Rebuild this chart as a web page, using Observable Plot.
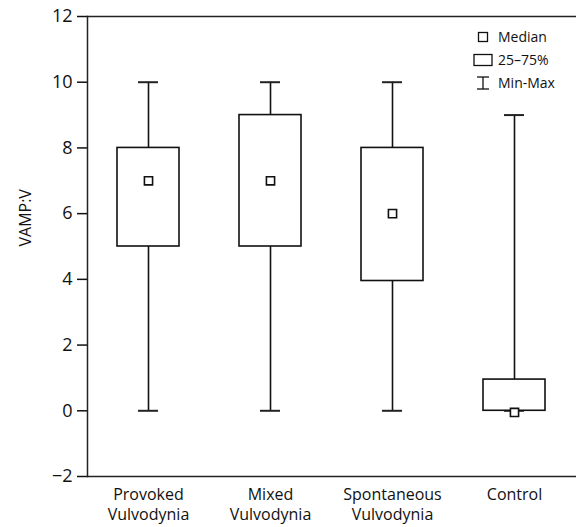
<!DOCTYPE html>
<html>
<head>
<meta charset="utf-8">
<script src="https://cdn.jsdelivr.net/npm/d3@7"></script>
<script src="https://cdn.jsdelivr.net/npm/@observablehq/plot@0.6"></script>
<style>
  html, body { margin: 0; padding: 0; background: #fff; }
  #wrap { position: relative; width: 578px; height: 527px; font-family: "Open Sans", sans-serif; }
  #legend { position: absolute; left: 472px; top: 25px; font-size: 14px; color: #111; }
  #legend .row { display: flex; align-items: center; height: 23px; }
  #legend .sym { width: 22px; display: flex; justify-content: center; align-items: center; margin-right: 4px; }
</style>
</head>
<body>
<div id="wrap"><div id="legend"></div></div>
<script>
const categories = ["Provoked\nVulvodynia", "Mixed\nVulvodynia", "Spontaneous\nVulvodynia", "Control"];
const minValues = [0, 0, 0, 0];
const q1Values = [5, 5, 3.95, 0];
const medianValues = [7, 7, 6, -0.05];
const q3Values = [8, 9, 8, 0.95];
const maxValues = [10, 10, 10, 9];
const yTicks = [-2, 0, 2, 4, 6, 8, 10, 12];
const legendLabels = ["Median", "25–75%", "Min-Max"];

const data = categories.map((c, i) => ({
  cat: c, min: minValues[i], q1: q1Values[i], med: medianValues[i], q3: q3Values[i], max: maxValues[i]
}));

const chart = Plot.plot({
  width: 578,
  height: 527,
  marginLeft: 87,
  marginRight: 2,
  marginTop: 16,
  marginBottom: 51,
  style: { fontFamily: "Open Sans, sans-serif", fontSize: "15px", color: "#111" },
  x: { domain: categories, paddingInner: 0.49, paddingOuter: 0.245, label: null },
  y: { domain: [-2, 12], label: null },
  marks: [
    Plot.ruleY([-2, 12], { stroke: "#222", strokeWidth: 1.5 }),
    Plot.axisY({ ticks: yTicks, tickSize: 10, tickFormat: () => "", strokeWidth: 1.5, label: null }),
    Plot.text(yTicks, { y: d => d, text: d => d < 0 ? "\u2212" + Math.abs(d) : String(d), frameAnchor: "left", dx: -15, textAnchor: "end", fontSize: 18, fill: "#111" }),
    Plot.frame({ anchor: "left", stroke: "#222", strokeWidth: 1.5 }),
    Plot.text(["VAMP:V"], { frameAnchor: "left", dx: -62, rotate: -90, fontSize: 16, fill: "#111" }),
    Plot.axisX({ tickSize: 0, tickPadding: 9, lineHeight: 1.25, fontSize: 16, label: null }),
    Plot.ruleX(data, { x: "cat", y1: "min", y2: "q1", stroke: "#111", strokeWidth: 1.6 }),
    Plot.ruleX(data, { x: "cat", y1: "q3", y2: "max", stroke: "#111", strokeWidth: 1.6 }),
    Plot.tickY(data, { x: "cat", y: "min", inset: 21, stroke: "#222", strokeWidth: 2 }),
    Plot.tickY(data, { x: "cat", y: "max", inset: 21, stroke: "#222", strokeWidth: 2 }),
    Plot.barY(data, { x: "cat", y1: "q1", y2: "q3", fill: "white", stroke: "#111", strokeWidth: 1.6 }),
    Plot.dot(data, { x: "cat", y: "med", symbol: "square", r: 4.6, fill: "white", stroke: "#111", strokeWidth: 1.6 })
  ]
});
const wrap = document.getElementById("wrap");
wrap.insertBefore(chart, wrap.firstChild);

const syms = [
  '<svg width="12" height="12"><rect x="1.5" y="1.5" width="9" height="9" fill="white" stroke="#111" stroke-width="1.3"/></svg>',
  '<svg width="20" height="14"><rect x="1" y="1.5" width="18" height="11" fill="white" stroke="#111" stroke-width="1.3"/></svg>',
  '<svg width="18" height="14"><line x1="3" y1="1" x2="15" y2="1" stroke="#111" stroke-width="1.3"/><line x1="3" y1="13" x2="15" y2="13" stroke="#111" stroke-width="1.3"/><line x1="9" y1="1" x2="9" y2="13" stroke="#111" stroke-width="1.3"/></svg>'
];
const legend = document.getElementById("legend");
legendLabels.forEach((l, i) => {
  const row = document.createElement("div");
  row.className = "row";
  row.innerHTML = '<span class="sym">' + syms[i] + '</span><span>' + l + '</span>';
  legend.appendChild(row);
});
</script>
</body>
</html>
